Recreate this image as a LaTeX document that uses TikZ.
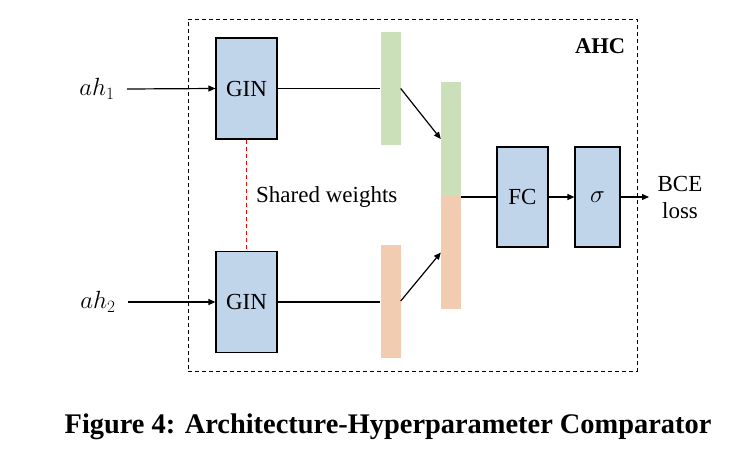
\documentclass[tikz,border=0pt]{standalone}
\usepackage{fontspec}
\setmainfont{Liberation Serif}
\usetikzlibrary{arrows.meta}
\definecolor{boxblue}{RGB}{192,212,234}
\definecolor{barg}{RGB}{203,224,184}
\definecolor{baro}{RGB}{241,204,176}
\begin{document}
\begin{tikzpicture}[x=1pt,y=-1pt,
  blk/.style={draw=black, line width=1.2pt, fill=boxblue, minimum width=61pt, minimum height=101pt, inner sep=0pt, font=\fontsize{23}{27}\selectfont},
  bar/.style={minimum width=20pt, inner sep=0pt, draw=none},
  conn/.style={line width=1.2pt},
  arr/.style={line width=1.2pt, -{Triangle[length=7pt,width=6pt]}},
  lbl/.style={inner sep=0pt, font=\fontsize{23}{27}\selectfont}]
\useasboundingbox (0,0) rectangle (754,458);
% frame
\node[draw, line width=1pt, dash pattern=on 4pt off 3pt, minimum width=449pt, minimum height=352pt, inner sep=0pt] (frame) at (412.5,195) {};
\node[lbl, font=\fontsize{22.5}{27}\selectfont\bfseries] (ahc) at (600,46) {AHC};
% blocks
\node[blk] (gin1) at (246.5,88.5) {GIN};
\node[blk] (gin2) at (246.5,302) {GIN};
\node[bar, fill=barg, minimum height=113pt] (g1) at (390.5,88.5) {};
\node[bar, fill=baro, minimum height=113pt] (o1) at (390.5,301) {};
\node[bar, fill=barg, minimum height=114pt] (cg) at (451,139) {};
\node[bar, fill=baro, minimum height=113pt] (co) at (451,252.5) {};
\node[blk, minimum width=51pt, minimum height=100pt] (fc) at (522.5,197) {FC};
\node[blk, minimum width=45pt, minimum height=100pt] (sig) at (597.5,197) {$\sigma$};
% labels
\node[lbl, font=\fontsize{24}{28}\selectfont] (ah1) at (97,89) {$ah_1$};
\node[lbl, font=\fontsize{24}{28}\selectfont] (ah2) at (98,302) {$ah_2$};
\node[lbl, align=center] (bce) at (680,197) {BCE\\loss};
\node[lbl, anchor=west] (sw) at (256,197) {Shared weights};
\node[inner sep=0pt, font=\fontsize{28.4}{32}\selectfont\bfseries] (cap) at (388,427) {Figure 4: Architecture-Hyperparameter Comparator};
% connectors
\coordinate (a1) at (127,89);
\coordinate (a2) at (128,302);
\coordinate (out) at (649,197);
\draw[arr] (a1) -- (gin1.west);
\draw[arr] (a2) -- (gin2.west);
\draw[conn] (gin1.east) -- (gin1.east -| g1.west);
\draw[conn] (gin2.east) -- (gin2.east -| o1.west);
\draw[arr] (g1.east) -- (cg.west);
\draw[arr] (o1.east) -- (co.west);
\draw[conn] (fc.west -| cg.east) -- (fc.west);
\draw[arr] (fc.east) -- (sig.west);
\draw[arr] (sig.east) -- (out);
\draw[red, line width=0.8pt, dash pattern=on 4pt off 3pt] (gin1.south) -- (gin2.north);
\end{tikzpicture}
\end{document}
